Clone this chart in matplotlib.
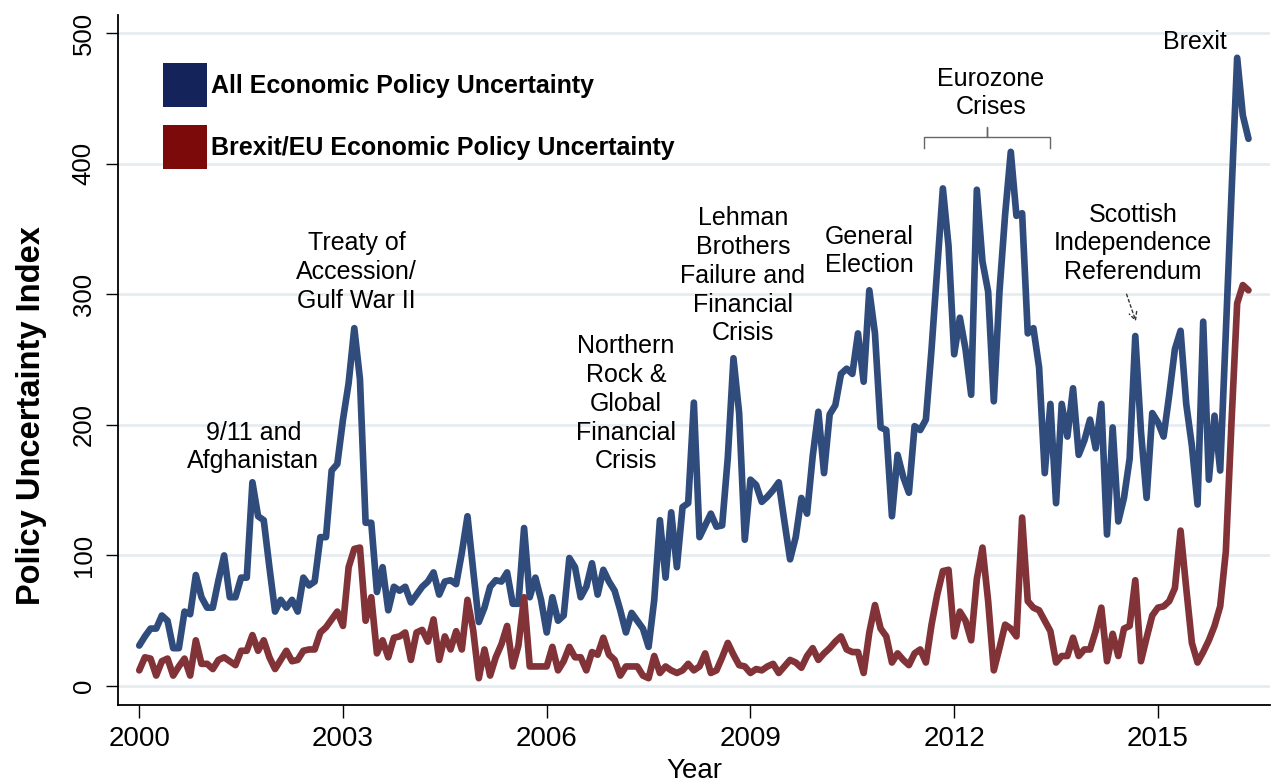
"""UK economic policy uncertainty, overall index vs Brexit/EU component, 2000-2016."""

import matplotlib

matplotlib.use("Agg")
import matplotlib.pyplot as plt
import numpy as np
from matplotlib.patches import Patch

plt.rcParams["font.family"] = ["Liberation Sans", "DejaVu Sans"]

START_YEAR = 2000

# monthly values from Jan 2000 to May 2016
ALL_EPU = [
    31, 38, 44, 44, 54, 50, 29, 29, 57, 55, 85, 68,
    60, 60, 81, 100, 68, 68, 83, 83, 156, 130, 127, 91,
    57, 66, 60, 66, 57, 83, 77, 80, 114, 114, 165, 170,
    204, 232, 274, 235, 125, 125, 72, 91, 58, 76, 73, 76,
    64, 70, 76, 80, 87, 70, 80, 81, 78, 102, 130, 89,
    49, 60, 76, 81, 80, 87, 63, 63, 121, 68, 83, 66,
    41, 68, 50, 54, 98, 91, 68, 76, 94, 70, 89, 80,
    73, 58, 41, 56, 50, 44, 30, 66, 127, 83, 133, 91,
    137, 140, 217, 114, 123, 132, 122, 123, 175, 251, 209, 112,
    158, 154, 141, 145, 150, 156, 126, 97, 114, 144, 132, 176,
    210, 163, 208, 215, 239, 243, 239, 270, 233, 303, 270, 198,
    196, 130, 177, 160, 148, 199, 196, 204, 258, 320, 381, 337,
    254, 282, 258, 223, 380, 325, 302, 218, 302, 361, 409, 360,
    362, 270, 274, 244, 163, 216, 140, 216, 191, 228, 177, 188,
    204, 182, 216, 116, 198, 126, 144, 174, 268, 195, 144, 209,
    202, 191, 223, 258, 272, 216, 184, 139, 279, 158, 207, 165,
    272, 377, 481, 437, 419,
]
BREXIT_EPU = [
    12, 22, 21, 8, 19, 21, 8, 15, 21, 8, 35, 17,
    17, 13, 20, 22, 19, 16, 27, 27, 39, 27, 35, 22,
    13, 20, 27, 19, 20, 27, 28, 28, 41, 45, 51, 57,
    46, 91, 105, 106, 50, 68, 25, 35, 22, 37, 38, 41,
    20, 41, 43, 34, 51, 20, 38, 28, 42, 28, 66, 43,
    6, 28, 8, 22, 32, 46, 15, 31, 68, 15, 15, 15,
    15, 30, 12, 19, 30, 22, 22, 12, 26, 24, 37, 24,
    20, 8, 15, 15, 15, 8, 6, 23, 10, 15, 12, 10,
    12, 17, 12, 15, 25, 10, 12, 22, 33, 24, 16, 15,
    10, 13, 12, 15, 17, 10, 15, 20, 18, 14, 23, 29,
    20, 25, 29, 34, 38, 28, 26, 26, 10, 41, 62, 44,
    38, 18, 25, 20, 16, 25, 28, 18, 47, 70, 88, 89,
    38, 57, 50, 35, 82, 106, 65, 12, 29, 47, 44, 38,
    129, 65, 60, 58, 50, 42, 18, 23, 23, 37, 23, 28,
    28, 42, 60, 19, 40, 23, 44, 46, 81, 19, 37, 54,
    60, 61, 65, 75, 119, 75, 33, 18, 26, 35, 46, 61,
    103, 202, 293, 307, 303,
]
SERIES_LABELS = ["All Economic Policy Uncertainty",
                 "Brexit/EU Economic Policy Uncertainty"]
YEAR_TICKS = [2000, 2003, 2006, 2009, 2012, 2015]
Y_TICKS = [0, 100, 200, 300, 400, 500]

# event labels: text, x (year), y (index) of the label centre
EVENTS = [
    ("9/11 and\nAfghanistan", 2001.68, 183),
    ("Treaty of\nAccession/\nGulf War II", 2003.2, 317),
    ("Northern\nRock &\nGlobal\nFinancial\nCrisis", 2007.17, 216),
    ("Lehman\nBrothers\nFailure and\nFinancial\nCrisis", 2008.89, 314),
    ("General\nElection", 2010.75, 333),
    ("Eurozone\nCrises", 2012.54, 454),
    ("Scottish\nIndependence\nReferendum", 2014.63, 339),
    ("Brexit", 2015.54, 493),
]
EURO_SPAN = (2011.55, 2013.41)
EURO_MID = 2012.48
EURO_LEVEL = 420
SCOT_ARROW = ((2014.525, 302), (2014.69, 277))

BLUE = "#2f4c7d"
RED = "#823338"
BLUE_KEY = "#14245a"
RED_KEY = "#7d0a0a"
GRID = "#e6edf0"


def main() -> None:
    years = START_YEAR + np.arange(len(ALL_EPU)) / 12.0

    fig = plt.figure(figsize=(12.81, 7.84), dpi=100)
    ax = fig.add_axes([0.0921, 0.1008, 0.8993, 0.8801])

    ax.plot(years, ALL_EPU, color=BLUE, lw=4.8, solid_joinstyle="round",
            solid_capstyle="round", zorder=3)
    ax.plot(years, BREXIT_EPU, color=RED, lw=4.8, solid_joinstyle="round",
            solid_capstyle="round", zorder=4)

    ax.set_xlim(START_YEAR - 0.313, START_YEAR + 16.65)
    ax.set_ylim(-14.5, 513.8)
    ax.set_xticks(YEAR_TICKS)
    ax.set_yticks(Y_TICKS)
    ax.set_xticklabels([str(y) for y in YEAR_TICKS])
    ax.set_yticklabels([str(v) for v in Y_TICKS])
    ax.tick_params(axis="x", length=9, width=1.0, pad=6, labelsize=20)
    ax.tick_params(axis="y", length=9, width=1.0, pad=7, labelsize=18.5,
                   labelrotation=90)
    for lbl in ax.get_yticklabels():
        lbl.set_va("center")
    ax.grid(axis="y", color=GRID, lw=2.0, zorder=0)
    for side in ("top", "right"):
        ax.spines[side].set_visible(False)
    for side in ("left", "bottom"):
        ax.spines[side].set_linewidth(1.3)

    ax.set_ylabel("Policy Uncertainty Index", fontsize=23.5, fontweight="bold")
    ax.yaxis.set_label_coords(-0.0616, 0.42)
    ax.set_xlabel("Year", fontsize=20)
    ax.xaxis.set_label_coords(0.5, -0.077)

    handles = [Patch(facecolor=BLUE_KEY, edgecolor="none"),
               Patch(facecolor=RED_KEY, edgecolor="none")]
    ax.legend(handles, SERIES_LABELS, loc="upper left",
              bbox_to_anchor=(0.039, 0.930), frameon=False,
              prop={"weight": "bold", "size": 18},
              handlelength=1.76, handleheight=2.33, labelspacing=0.72,
              handletextpad=0.16, borderpad=0, borderaxespad=0)

    for text, x, y in EVENTS:
        ax.text(x, y, text, ha="center", va="center", fontsize=18,
                linespacing=1.25, zorder=5)

    # bracket over the Eurozone crisis period
    x0, x1 = EURO_SPAN
    ax.plot([x0, x0, EURO_MID, EURO_MID, EURO_MID, x1, x1],
            [EURO_LEVEL - 8, EURO_LEVEL, EURO_LEVEL, EURO_LEVEL + 8,
             EURO_LEVEL, EURO_LEVEL, EURO_LEVEL - 8],
            color="#666666", lw=1.0, zorder=5)

    (sx, sy), (ex, ey) = SCOT_ARROW
    ax.annotate("", xy=(ex, ey), xytext=(sx, sy),
                arrowprops=dict(arrowstyle="->", color="#333333", lw=1.0,
                                linestyle=(0, (2, 2)), mutation_scale=14))

    fig.savefig("out.png", dpi=100)
    plt.close(fig)


if __name__ == "__main__":
    main()
